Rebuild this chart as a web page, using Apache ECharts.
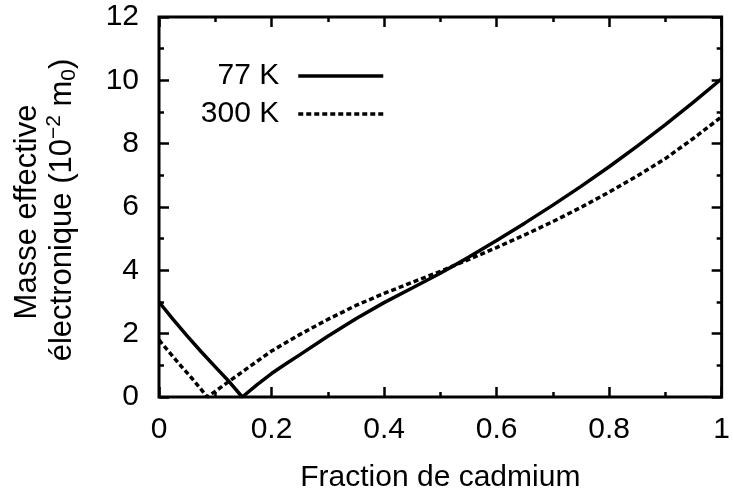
<!DOCTYPE html>
<html>
<head>
<meta charset="utf-8">
<script src="https://cdn.jsdelivr.net/npm/echarts@6/dist/echarts.min.js"></script>
<style>html,body{margin:0;padding:0;background:#fff}#c{width:733px;height:498px}</style>
</head>
<body>
<div id="c"></div>
<script>
// Fraction de cadmium (x) and effective mass (10^-2 m0)
const x77 = [0, 0.025, 0.05, 0.075, 0.1, 0.125, 0.148, 0.175, 0.2, 0.225, 0.25, 0.3, 0.35, 0.4, 0.45, 0.5, 0.55, 0.6, 0.65, 0.7, 0.75, 0.8, 0.85, 0.9, 0.95, 1.0];
const m77 = [3.0, 2.45, 1.93, 1.43, 0.95, 0.48, 0.0, 0.4, 0.74, 1.04, 1.33, 1.92, 2.47, 2.98, 3.44, 3.91, 4.41, 4.94, 5.49, 6.06, 6.65, 7.27, 7.92, 8.6, 9.31, 10.05];
const x300 = [0, 0.02, 0.04, 0.06, 0.086, 0.1, 0.125, 0.15, 0.2, 0.25, 0.3, 0.35, 0.4, 0.45, 0.5, 0.55, 0.6, 0.65, 0.7, 0.75, 0.8, 0.85, 0.9, 0.95, 1.0];
const m300 = [1.8, 1.38, 0.96, 0.56, 0.0, 0.18, 0.5, 0.82, 1.45, 1.97, 2.45, 2.89, 3.27, 3.62, 3.97, 4.34, 4.72, 5.12, 5.54, 5.99, 6.47, 6.98, 7.53, 8.17, 8.85];
const xTicks = ['0', '0.2', '0.4', '0.6', '0.8', '1'];
const yTicks = ['0', '2', '4', '6', '8', '10', '12'];
const seriesNames = ['77 K', '300 K'];

const FONT = 'Liberation Sans, Arial, sans-serif';
const FS = 30;
const zip = (a, b) => a.map((v, i) => [v, b[i]]);

const chart = echarts.init(document.getElementById('c'), null, {renderer: 'canvas'});
const tick = () => ({show: true, inside: true, length: 10, lineStyle: {color: '#000', width: 2.5}});
const minor = () => ({show: true, splitNumber: 2, length: 5, lineStyle: {color: '#000', width: 2.5}});
const line = () => ({show: false, onZero: false});
const xLab = v => xTicks[Math.round(v / 0.2)];

chart.setOption({
  animation: false,
  backgroundColor: '#fff',
  grid: {left: 159, right: 11, top: 17, bottom: 98, show: true, borderColor: '#000', borderWidth: 3, backgroundColor: 'transparent'},
  legend: {
    orient: 'vertical', align: 'right', right: 343, top: 56,
    itemWidth: 85, itemHeight: 14, itemGap: 8,
    data: seriesNames,
    itemStyle: {opacity: 0},
    lineStyle: {width: 3.5},
    textStyle: {fontFamily: FONT, fontSize: FS, color: '#000', lineHeight: 30, padding: [0, 14, 0, 0]}
  },
  xAxis: [
    {type: 'value', min: 0, max: 1, interval: 0.2, position: 'bottom',
     axisLine: line(), axisTick: tick(), minorTick: minor(), splitLine: {show: false},
     axisLabel: {fontFamily: FONT, fontSize: FS, color: '#000', margin: 18, formatter: xLab},
     name: 'Fraction de cadmium', nameLocation: 'middle', nameGap: 66,
     nameTextStyle: {fontFamily: FONT, fontSize: FS, color: '#000'}},
    {type: 'value', min: 0, max: 1, interval: 0.2, position: 'top',
     axisLine: line(), axisTick: tick(), minorTick: minor(), splitLine: {show: false},
     axisLabel: {show: false}}
  ],
  yAxis: [
    {type: 'value', min: 0, max: 12, interval: 2, position: 'left',
     axisLine: line(), axisTick: tick(), minorTick: minor(), splitLine: {show: false},
     axisLabel: {fontFamily: FONT, fontSize: FS, color: '#000', margin: 20, formatter: v => yTicks[Math.round(v / 2)]}},
    {type: 'value', min: 0, max: 12, interval: 2, position: 'right',
     axisLine: line(), axisTick: tick(), minorTick: minor(), splitLine: {show: false},
     axisLabel: {show: false}}
  ],
  graphic: [
    {type: 'text', x: 27, y: 212, rotation: Math.PI / 2,
     style: {text: 'Masse effective', fontFamily: FONT, fontSize: 31, fill: '#000', align: 'center', verticalAlign: 'middle'}},
    {type: 'text', x: 62, y: 210, rotation: Math.PI / 2,
     style: {
       text: '{a|électronique (10}{sup|−2}{a| m}{sub|0}{a|)}',
       align: 'center', verticalAlign: 'middle', fill: '#000',
       rich: {
         a: {fontFamily: FONT, fontSize: 31, fill: '#000', lineHeight: 36, verticalAlign: 'middle'},
         sup: {fontFamily: FONT, fontSize: 21, fill: '#000', lineHeight: 36, verticalAlign: 'top', padding: [0, 0, 8, 0]},
         sub: {fontFamily: FONT, fontSize: 21, fill: '#000', lineHeight: 36, verticalAlign: 'bottom'}
       }
     }}
  ],
  series: [
    {name: seriesNames[0], type: 'line', data: zip(x77, m77), showSymbol: false, symbol: 'none', smooth: false,
     lineStyle: {color: '#000', width: 3.5, type: 'solid'}, itemStyle: {color: '#000'}},
    {name: seriesNames[1], type: 'line', data: zip(x300, m300), showSymbol: false, symbol: 'none', smooth: false,
     lineStyle: {color: '#000', width: 3.5, type: [5, 3]}, itemStyle: {color: '#000'}}
  ]
});
</script>
</body>
</html>
